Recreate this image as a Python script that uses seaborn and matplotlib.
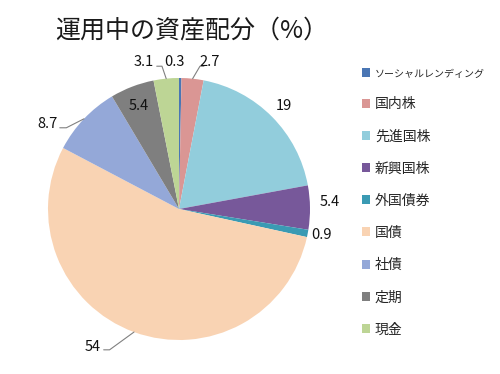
import numpy as np
import matplotlib
matplotlib.use("Agg")
import matplotlib.pyplot as plt
import seaborn as sns

categories = ['ソーシャルレンディング', '国内株', '先進国株', '新興国株', '外国債券',
              '国債', '社債', '定期', '現金']
values = [0.3, 2.7, 19, 5.4, 0.9, 54, 8.7, 5.4, 3.1]
value_labels = ['0.3', '2.7', '19', '5.4', '0.9', '54', '8.7', '5.4', '3.1']
colors = ['#4A76B4', '#DA9694', '#92CDDC', '#77589A', '#3A9AB3',
          '#F9D3B3', '#94A8D8', '#7F7F7F', '#BDD595']
title = '運用中の資産配分（%）'

sns.set_theme(style='white')
plt.rcParams['font.family'] = ['Noto Sans CJK JP', 'DejaVu Sans']

fig = plt.figure(figsize=(5, 3.74), dpi=100)
ax = fig.add_axes([48 / 500, 34 / 374, 262 / 500, 262 / 374])
wedges, _ = ax.pie(values, colors=colors, startangle=90, counterclock=False,
                   radius=1, wedgeprops=dict(linewidth=0))
ax.set_xlim(-1, 1)
ax.set_ylim(-1, 1)
ax.set_aspect('equal')
ax.axis('off')

# label placement: (text x, text y, ha, leader bend points or None)
label_pos = [
    (-0.034, 1.12, 'center', None),
    (0.235, 1.12, 'center', [(0.16, 1.09), (0.19, 1.09)]),
    (0.80, 0.79, 'center', None),
    (1.149, 0.053, 'center', None),
    (1.09, -0.20, 'center', None),
    (-0.66, -1.05, 'center', [(-0.53, -1.075), (-0.575, -1.075)]),
    (-1.0, 0.65, 'center', [(-0.86, 0.62), (-0.91, 0.62)]),
    (-0.305, 0.786, 'center', None),
    (-0.267, 1.12, 'center', [(-0.13, 1.09), (-0.17, 1.09)]),
]

for w, lab, (tx, ty, ha, bends) in zip(wedges, value_labels, label_pos):
    ax.text(tx, ty, lab, ha=ha, va='center', fontsize=10.5, color='#111111')
    if bends is not None:
        mid = np.deg2rad((w.theta1 + w.theta2) / 2)
        pts = [(np.cos(mid), np.sin(mid))] + bends
        xs, ys = zip(*pts)
        ax.plot(xs, ys, color='#808080', lw=0.8, clip_on=False)

fig.text(55 / 500, 1 - 30 / 374, title, fontsize=18, va='center', ha='left',
         color='#1a1a1a')

leg = fig.legend(wedges, categories, loc='upper left',
                 bbox_to_anchor=(349 / 500, 1 - 55 / 374), frameon=False,
                 handlelength=0.62, handleheight=0.62, handletextpad=0.35,
                 labelspacing=1.31, fontsize=10)
leg.get_texts()[0].set_fontsize(7.2)

fig.savefig('out.png', dpi=100)
